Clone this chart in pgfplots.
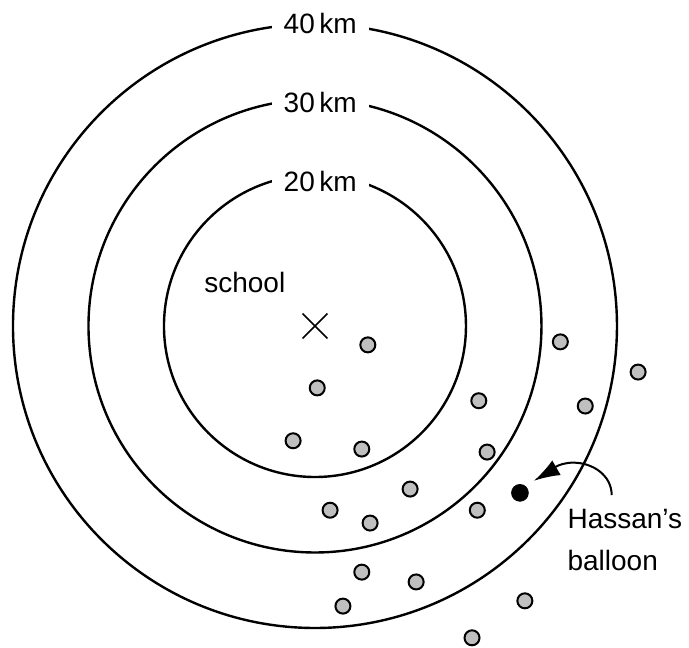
\documentclass[border=0pt]{standalone}
\usepackage{pgfplots}
\pgfplotsset{compat=1.18}
\usepackage{fontspec}
\setmainfont{Liberation Sans}
\usetikzlibrary{arrows.meta}
\begin{document}
\begin{tikzpicture}
\begin{axis}[
  scale only axis,
  width=344.5pt, height=323.5pt,
  xmin=-41.72, xmax=49.54,
  ymin=-42.52, ymax=43.18,
  hide axis, clip=false,
  font=\fontsize{14}{21}\selectfont,
]
\path (rel axis cs:0,0) rectangle (rel axis cs:1,1);
% distance circles (km)
\draw[line width=1.2pt] (axis cs:0,0) circle[radius=20];
\draw[line width=1.2pt] (axis cs:0,0) circle[radius=30];
\draw[line width=1.2pt] (axis cs:0,0) circle[radius=40];
\node[fill=white, inner xsep=6pt, inner ysep=1pt] at (axis cs:0.7,40.1) {40\,km};
\node[fill=white, inner xsep=6pt, inner ysep=1pt] at (axis cs:0.7,29.6) {30\,km};
\node[fill=white, inner xsep=6pt, inner ysep=1pt] at (axis cs:0.7,19.2) {20\,km};
% school
\addplot[only marks, mark=x, mark size=8.8pt, mark options={line width=0.8pt}] coordinates {(0,0)};
\node at (axis cs:-9.3,5.7) {school};
% other balloons
\addplot[only marks, mark=*, mark size=3.75pt, mark options={fill=black!25, draw=black, line width=1pt}] coordinates {
(7.0,-2.5) (0.3,-8.2) (-2.9,-15.2) (6.2,-16.3) (21.7,-9.9) (22.8,-16.7)
(12.6,-21.6) (2.0,-24.4) (7.3,-26.1) (21.5,-24.4) (32.5,-2.1) (42.8,-6.1)
(35.8,-10.6) (6.2,-32.6) (13.4,-33.9) (3.7,-37.1) (27.8,-36.4) (20.8,-41.3)
};
% Hassan's balloon
\addplot[only marks, mark=*, mark size=4.2pt, mark options={fill=black, draw=black}] coordinates {(27.15,-22.1)};
\draw[line width=1pt, -{Latex[length=13pt, width=8.5pt]}] (axis cs:39.3,-22.4) to[out=90, in=0] (axis cs:34.2,-18.1) to[out=180, in=30] (axis cs:29.0,-20.5);
\node[anchor=west, align=left, inner sep=0pt] at (axis cs:33.4,-28.4) {Hassan’s\\balloon};
\end{axis}
\end{tikzpicture}
\end{document}
